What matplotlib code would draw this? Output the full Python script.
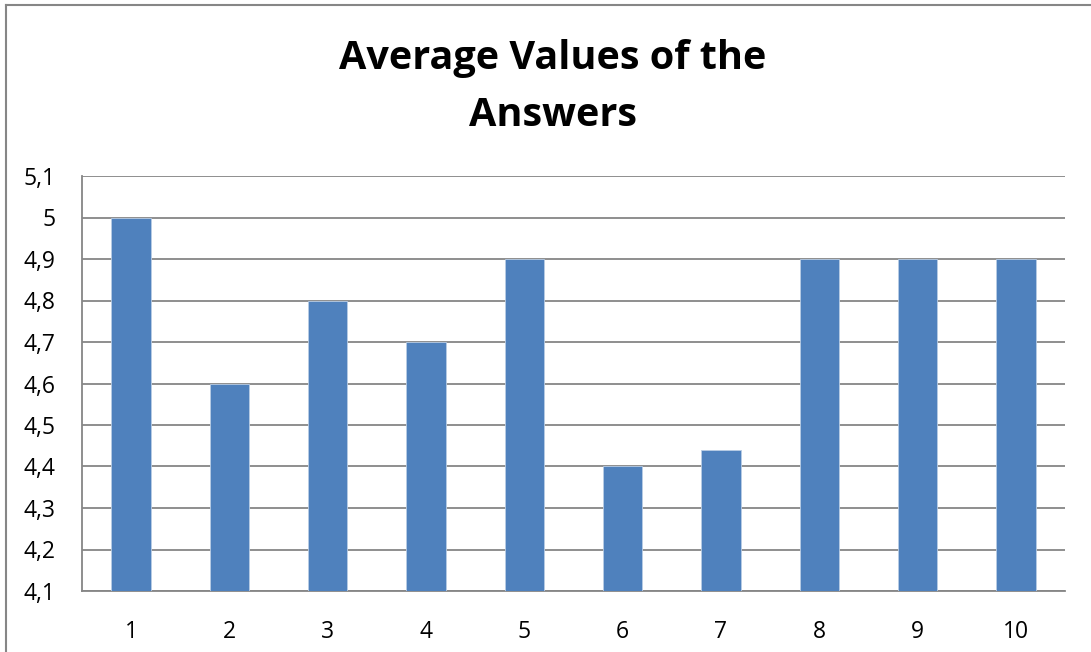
import matplotlib.pyplot as plt
from matplotlib.lines import Line2D
from matplotlib.ticker import FixedLocator, FixedFormatter

plt.rcParams['font.family'] = ['Open Sans', 'DejaVu Sans']

# Data
questions = [1, 2, 3, 4, 5, 6, 7, 8, 9, 10]
averages = [5.0, 4.6, 4.8, 4.7, 4.9, 4.4, 4.44, 4.9, 4.9, 4.9]
y_ticks = [4.1, 4.2, 4.3, 4.4, 4.5, 4.6, 4.7, 4.8, 4.9, 5.0, 5.1]
y_labels = ['4,1', '4,2', '4,3', '4,4', '4,5', '4,6', '4,7', '4,8', '4,9', '5', '5,1']

fig = plt.figure(figsize=(10.91, 6.52), dpi=100)
ax = fig.add_axes([82 / 1091, 1 - 591 / 652, (1065 - 82) / 1091, (591 - 176) / 652])

ax.bar(questions, averages, width=0.4, color='#4F81BD', edgecolor='#B9CDE5',
       linewidth=0.6, zorder=3, bottom=0)
ax.set_xlim(0.5, 10.5)
ax.set_ylim(4.1, 5.1)

ax.yaxis.set_major_locator(FixedLocator(y_ticks))
ax.yaxis.set_major_formatter(FixedFormatter(y_labels))
ax.set_xticks(questions)
ax.set_xticklabels([str(q) for q in questions])
ax.tick_params(axis='both', length=0, labelsize=16.5, colors='black')
ax.tick_params(axis='y', pad=19)
ax.tick_params(axis='x', pad=21)

ax.grid(axis='y', color='#868686', linewidth=1.3, zorder=0)
for side in ['left', 'top', 'right', 'bottom']:
    ax.spines[side].set_color('#868686')
    ax.spines[side].set_linewidth(1.3)
ax.spines['top'].set_visible(False)
ax.spines['right'].set_visible(False)

fig.text(0.507, 0.866, 'Average Values of the\nAnswers', ha='center', va='center',
         fontsize=28.5, fontweight='bold', linespacing=1.6)

# outer chart frame (only left and top edges are visible)
fig.add_artist(Line2D([6 / 1091, 6 / 1091], [0, 1 - 5 / 652], color='#868686', linewidth=1.5))
fig.add_artist(Line2D([6 / 1091, 1], [1 - 5 / 652, 1 - 5 / 652], color='#868686', linewidth=1.5))

fig.savefig('out.png', dpi=100)
